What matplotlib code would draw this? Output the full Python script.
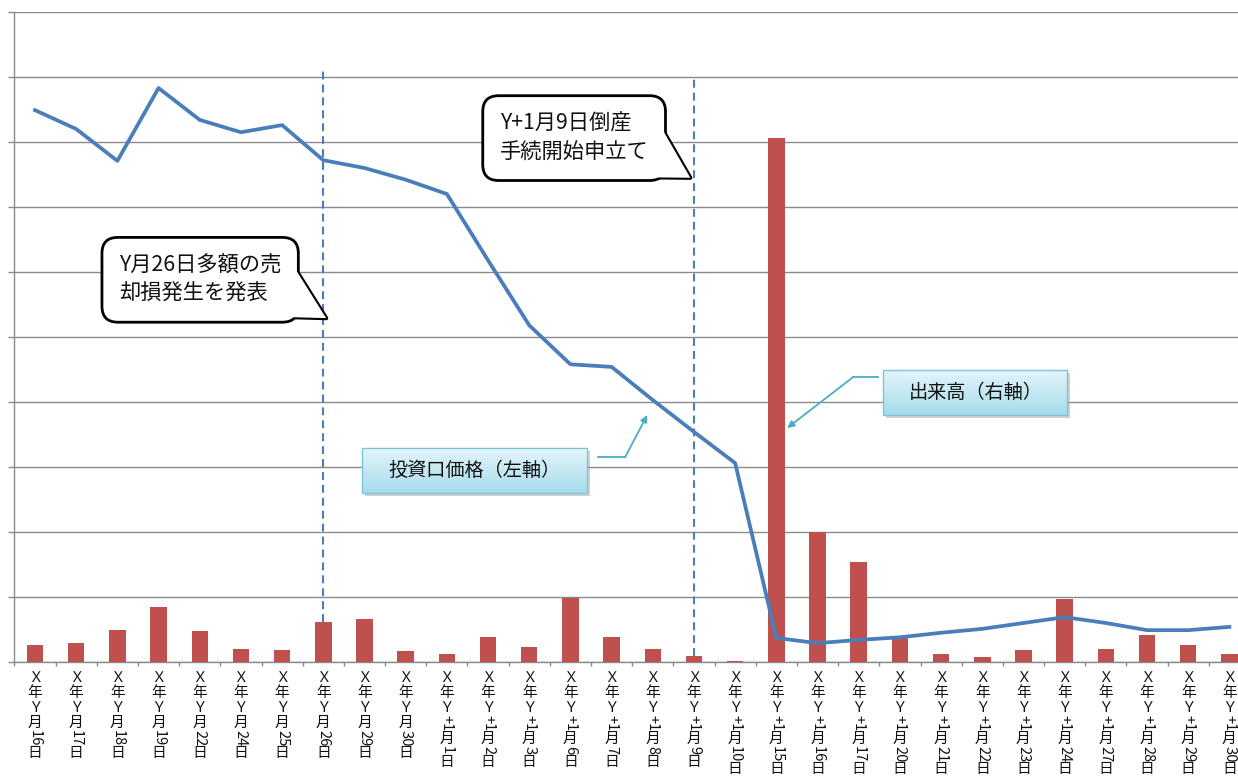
import re
import numpy as np
import matplotlib
matplotlib.use("Agg")
import matplotlib.pyplot as plt
from matplotlib.patches import FancyBboxPatch
from matplotlib.colors import LinearSegmentedColormap
from matplotlib.transforms import offset_copy

plt.rcParams['font.family'] = ['Noto Sans CJK JP', 'DejaVu Sans']

# ---- data ----
days_y = ['16', '17', '18', '19', '22', '24', '25', '26', '29', '30']
days_y1 = ['1', '2', '3', '6', '7', '8', '9', '10', '15', '16', '17', '20',
           '21', '22', '23', '24', '27', '28', '29', '30']
categories = (['Ｘ年Ｙ月' + d + '日' for d in days_y] +
              ['Ｘ年Ｙ+1月' + d + '日' for d in days_y1])

# 投資口価格 (left axis, grid units 0-10)
price = [8.49, 8.20, 7.71, 8.83, 8.34, 8.15, 8.26, 7.72, 7.60, 7.42,
         7.20, 6.18, 5.18, 4.58, 4.54, 4.03, 3.54, 3.06, 0.37, 0.29,
         0.34, 0.38, 0.45, 0.51, 0.60, 0.69, 0.60, 0.49, 0.49, 0.54]
# 出来高 (right axis, 0-100)
volume = [2.6, 3.0, 4.9, 8.4, 4.7, 2.0, 1.8, 6.2, 6.6, 1.7,
          1.2, 3.8, 2.3, 9.8, 3.8, 2.0, 1.0, 0.15, 80.6, 20.0,
          15.4, 3.9, 1.2, 0.8, 1.8, 9.7, 2.0, 4.2, 2.6, 1.2]

left_max, right_max = 10, 100
events = [7, 16]                 # Y月26日, Y+1月9日
event_tops = [9.14, 8.98]
bubble_texts = ['Y月26日多額の売\n却損発生を発表', 'Y+1月9日倒産\n手続開始申立て']

x = np.arange(len(categories))

fig = plt.figure(figsize=(12.38, 7.79), dpi=100)
ax = fig.add_axes([14.4 / 1238, 117 / 779, 1235.6 / 1238, 650 / 779])
ax2 = ax.twinx()
ax3 = ax.twinx()

grey = '#8a8a8a'
ax.set_ylim(0, left_max)
ax.set_yticks(np.arange(0, left_max + 1, 1))
ax.set_yticklabels([])
ax.set_xticks(np.arange(-0.5, len(x), 1))
ax.set_xticklabels([])
ax.tick_params(axis='y', length=4, color=grey, width=1)
ax.tick_params(axis='x', length=3, color=grey, width=1)
ax.grid(axis='y', color=grey, lw=1.0)
ax.set_axisbelow(True)
for s in ['top', 'right']:
    ax.spines[s].set_visible(False)
for s in ['left', 'bottom']:
    ax.spines[s].set_color(grey)
    ax.spines[s].set_linewidth(1.0)

# volume bars on the right axis
ax2.bar(x, volume, width=0.4, color='#C0504D')
ax2.set_ylim(0, right_max)
ax2.axis('off')

# price line on the left scale
ax3.plot(x, price, color='#4A7EBB', lw=2.7, solid_joinstyle='round', zorder=4)

# event dashed lines
for i, top in zip(events, event_tops):
    ax3.vlines(i, volume[i] * left_max / right_max, top, colors='#4A7EBB',
               linestyles=(0, (3.8, 2.4)), lw=1.5, zorder=3)

# tick labels written vertically (full-width upright, half-width turned)
trans = ax.get_xaxis_transform()
for i, lab in enumerate(categories):
    cursor = 9.0
    for tok in re.findall(r'[!-~]+|.', lab):
        if tok.isascii():
            h, rot = 7.2 * len(tok) + 1.5, -90
        else:
            h, rot = 14.8, 0
        t = offset_copy(trans, fig=fig, x=0, y=-(cursor + h / 2), units='dots')
        ax.text(i, 0, tok, transform=t, rotation=rot, ha='center', va='center',
                fontsize=10.6, clip_on=False, color='#111111')
        cursor += h


def bubble(axis, text, box_xy, tip_xy, relpos):
    common = dict(xy=tip_xy, xytext=box_xy, xycoords='data', textcoords='data',
                  ha='center', va='center', fontsize=15.3, linespacing=1.4,
                  multialignment='left')
    wedge = 'wedge,tail_width=2.6,shrink_factor=0.5'
    axis.annotate(text, color='none', zorder=6,
                  bbox=dict(boxstyle='round,pad=0.8,rounding_size=0.75',
                            fc='white', ec='black', lw=2),
                  arrowprops=dict(arrowstyle=wedge, fc='white', ec='black',
                                  lw=3, patchA=None, shrinkA=0, shrinkB=0,
                                  relpos=relpos),
                  **common)
    axis.annotate(text, color='none', zorder=7,
                  arrowprops=dict(arrowstyle=wedge, fc='white', ec='none',
                                  lw=0, patchA=None, shrinkA=0, shrinkB=0,
                                  relpos=relpos),
                  **common)
    axis.text(box_xy[0], box_xy[1], text, ha='center', va='center',
              fontsize=15.3, linespacing=1.4, multialignment='left',
              zorder=8, color='#111111')


bubble(ax3, bubble_texts[0], (4.01, 5.88), (7.07, 5.29), (1.0, 0.25))
bubble(ax3, bubble_texts[1], (13.09, 8.06), (15.91, 7.45), (1.0, 0.2))

cmap = LinearSegmentedColormap.from_list('cy', ['#A6DCEB', '#E4F5FA'])
grad = np.linspace(0, 1, 100).reshape(-1, 1)


def label_box(axis, text, x0, x1, y0, y1, tail, head):
    sh = FancyBboxPatch((x0 + 0.07, y0 - 0.05), x1 - x0, y1 - y0,
                        boxstyle='square,pad=0', fc='#9a9a9a', ec='none',
                        alpha=0.45, zorder=5)
    axis.add_patch(sh)
    axis.imshow(grad, extent=(x0, x1, y0, y1), origin='lower', cmap=cmap,
                aspect='auto', zorder=6, interpolation='bilinear')
    axis.add_patch(FancyBboxPatch((x0, y0), x1 - x0, y1 - y0,
                                  boxstyle='square,pad=0', fc='none',
                                  ec='#7CC6D8', lw=1.0, zorder=7))
    axis.text((x0 + x1) / 2, (y0 + y1) / 2, text, ha='center', va='center',
              fontsize=13.8, zorder=8, color='#111111')
    axis.plot([tail[0][0], tail[1][0]], [tail[0][1], tail[1][1]],
              color='#4BACC6', lw=1.3, zorder=5)
    axis.annotate('', xy=head, xytext=tail[1],
                  arrowprops=dict(arrowstyle='-|>', color='#4BACC6', lw=1.3,
                                  shrinkA=0, shrinkB=0, mutation_scale=10),
                  zorder=5)


label_box(ax3, '投資口価格（左軸）', 7.943, 13.408, 2.6, 3.292,
          [(13.675, 3.154), (14.331, 3.154)], (14.865, 3.8))
label_box(ax3, '出来高（右軸）', 20.598, 25.067, 3.8, 4.492,
          [(20.474, 4.385), (19.867, 4.385)], (18.264, 3.6))

ax3.set_ylim(0, left_max)
ax3.axis('off')
ax.set_xlim(-0.5, len(x) - 0.5)

fig.savefig('out.png', dpi=100)
